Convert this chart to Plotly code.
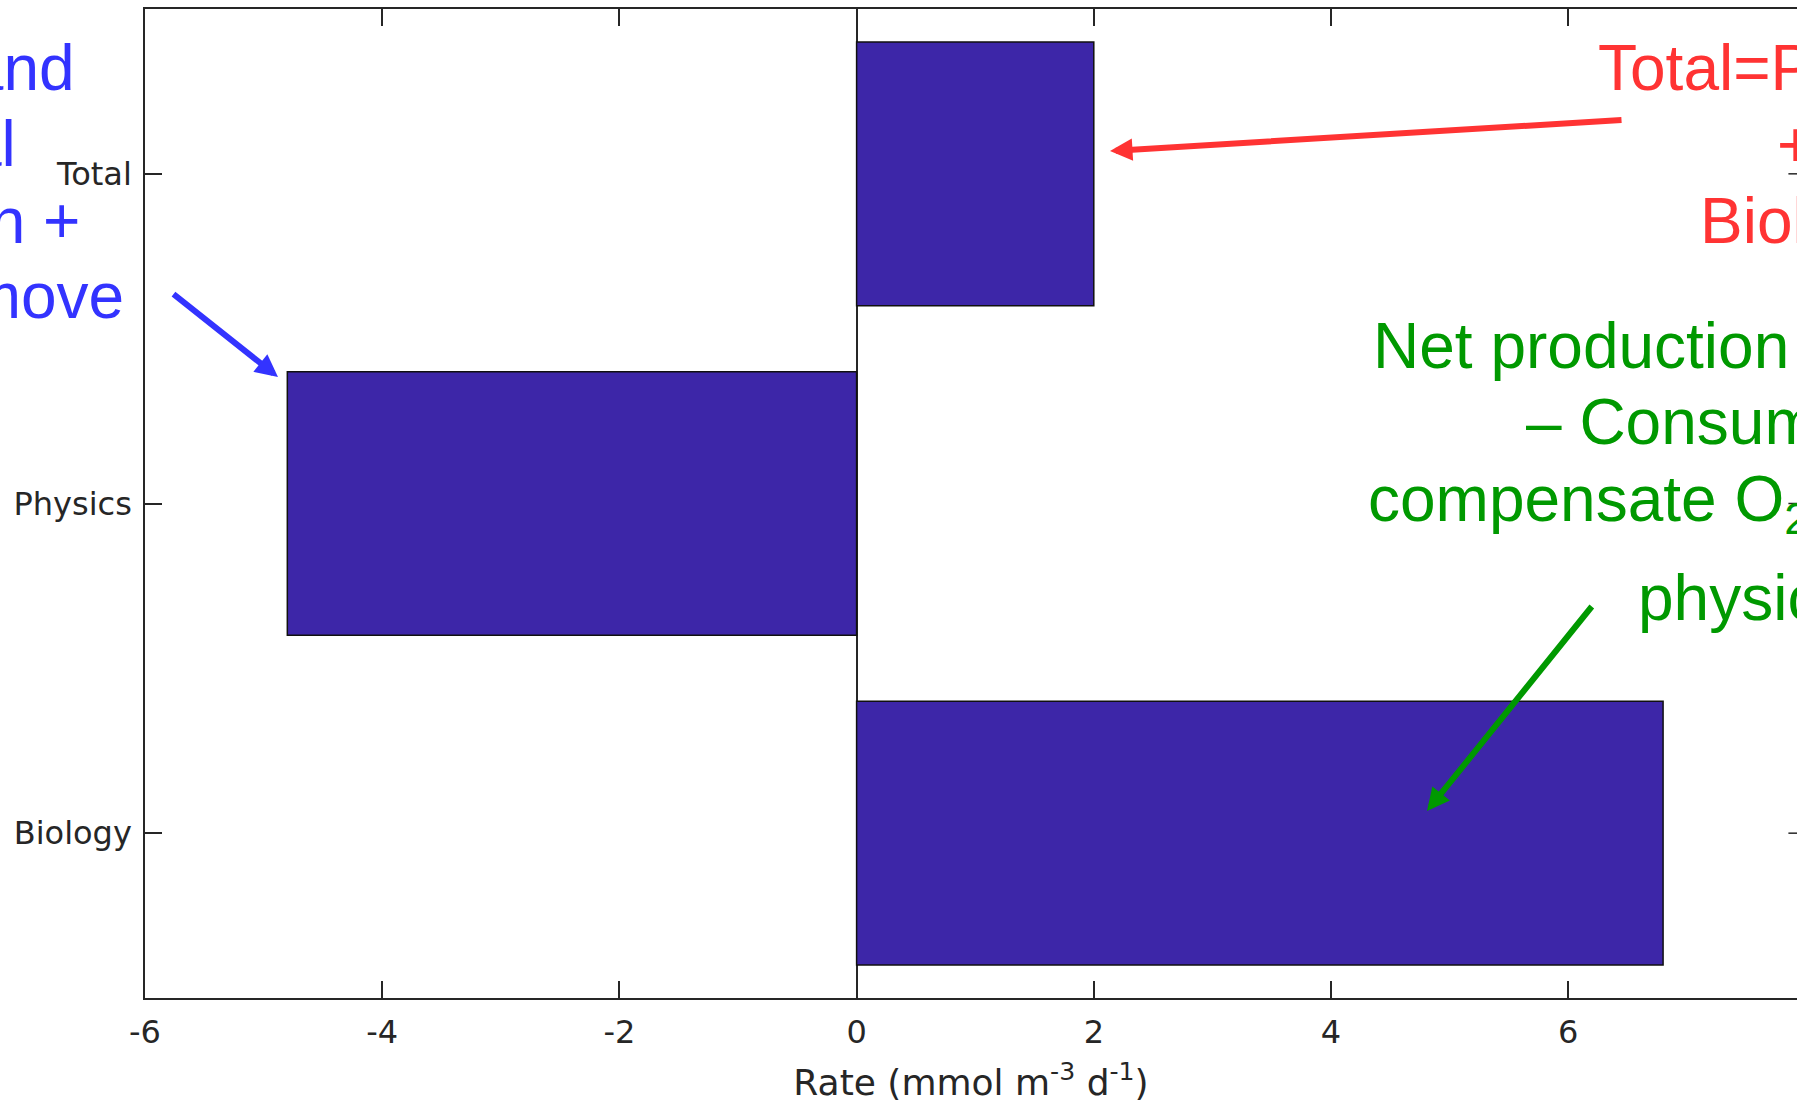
import plotly.graph_objects as go

# ---------------- data ----------------
categories = ["Biology", "Physics", "Total"]
rates = [6.8, -4.8, 2.0]
x_tick_values = [-6, -4, -2, 0, 2, 4, 6, 8]
x_tick_labels = ["-6", "-4", "-2", "0", "2", "4", "6", "8"]

blue_lines = ["Air-sea exchange and", "vertical", "diffusion +", "advection remove"]
red_lines = ["Total=Physics", "+", "Biology"]
green_lines = ["Net production (Production", "\u2013 Consumption)",
               "compensate O<sub>2</sub> loss by", "physics"]

# ---------------- layout geometry ----------------
W, H = 1797, 1103
ML, MT, MB = 145, 9, 105
PW = W - ML
PH = H - MT - MB
X_MIN, X_FULL_MAX = -6, 8
PX_PER_UNIT = 118.6
X_MAX_VISIBLE = X_MIN + PW / PX_PER_UNIT

AX = "#262626"
FS_TICK = 32
FS_NOTE = 64
ASC = 0.905  # Liberation Sans ascent


def pxx(x):
    return (x - ML) / PW


def pxy(y):
    return (H - MB - y) / PH


fig = go.Figure()
fig.add_trace(go.Bar(
    x=rates, y=categories, orientation="h", width=0.8,
    marker=dict(color="#3D26A8", line=dict(color="#101010", width=1.5)),
    showlegend=False, hoverinfo="skip",
))

# mirrored y ticks on the (off-screen) right axis
tick_len_units = 17 / PX_PER_UNIT
shapes = []
for c in categories:
    shapes.append(dict(type="line", xref="x", yref="y",
                       x0=X_FULL_MAX - tick_len_units, x1=X_FULL_MAX, y0=c, y1=c,
                       line=dict(color=AX, width=1.5)))

annotations = []

def note(text, x, baseline, color, anchor):
    annotations.append(dict(
        text=text, xref="paper", yref="paper", x=pxx(x), y=pxy(baseline - ASC * FS_NOTE),
        xanchor=anchor, yanchor="top", showarrow=False, borderpad=0,
        font=dict(family="Liberation Sans", size=FS_NOTE, color=color), align=anchor,
    ))

blue_right = [76, 17, 81, 125]
blue_base = [89, 165, 242, 317]
for t, xr, b in zip(blue_lines, blue_right, blue_base):
    note(t, xr, b, "#3333FF", "right")

red_left = [1597, 1776, 1699]
red_base = [89, 166, 242]
for t, xl, b in zip(red_lines, red_left, red_base):
    note(t, xl, b, "#FF3333", "left")

green_left = [1372, 1525, 1367, 1637]
green_base = [367, 443, 520, 619]
for t, xl, b in zip(green_lines, green_left, green_base):
    note(t, xl, b, "#009900", "left")


def arrow(tip, tail, color):
    annotations.append(dict(
        text="", xref="paper", yref="paper", x=pxx(tip[0]), y=pxy(tip[1]),
        ax=tail[0] - tip[0], ay=tail[1] - tip[1], axref="pixel", ayref="pixel",
        showarrow=True, arrowhead=2, arrowsize=0.75, arrowwidth=6,
        arrowcolor=color, standoff=0,
    ))

arrow((278, 377), (172, 293), "#3333FF")
arrow((1110, 151), (1623, 120), "#FF3333")
arrow((1427, 811), (1593, 605), "#009900")

fig.update_layout(
    width=W, height=H, autosize=False,
    margin=dict(l=ML, r=0, t=MT, b=MB, pad=0),
    paper_bgcolor="white", plot_bgcolor="white",
    font=dict(family="DejaVu Sans", color=AX),
    bargap=0.2,
    shapes=shapes, annotations=annotations,
    xaxis=dict(
        range=[X_MIN, X_MAX_VISIBLE], tickvals=x_tick_values, ticktext=x_tick_labels,
        showline=True, linecolor=AX, linewidth=1.5, mirror="allticks",
        ticks="inside", ticklen=17, tickwidth=1.5, tickcolor=AX,
        showgrid=False, zeroline=True, zerolinecolor=AX, zerolinewidth=1.5,
        tickfont=dict(family="DejaVu Sans", size=FS_TICK, color=AX),
        ticklabelstandoff=5,
        title=dict(text="Rate (mmol m<sup>-3</sup> d<sup>-1</sup>)",
                   font=dict(family="DejaVu Sans", size=36, color=AX), standoff=21),
    ),
    yaxis=dict(
        type="category", categoryorder="array", categoryarray=categories,
        range=[-0.5, 2.5],
        showline=True, linecolor=AX, linewidth=1.5, mirror=False,
        ticks="inside", ticklen=17, tickwidth=1.5, tickcolor=AX,
        showgrid=False, zeroline=False,
        tickfont=dict(family="DejaVu Sans", size=FS_TICK, color=AX),
        ticklabelstandoff=5,
    ),
)

fig.write_html("out.html")
